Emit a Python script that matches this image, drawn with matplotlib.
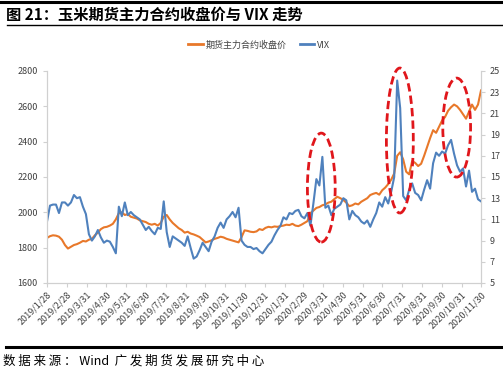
import matplotlib.pyplot as plt
import matplotlib.dates as mdates
from matplotlib.patches import Ellipse
from matplotlib.lines import Line2D
import pandas as pd

plt.rcParams['font.family'] = ['Noto Sans CJK SC', 'DejaVu Sans']

startDate = '2019-01-28'
endDate = '2020-11-30'

# 玉米期货主力合约收盘价 (left axis)
futuresPrice = [
    1855, 1865, 1870, 1868, 1862, 1845, 1815, 1795, 1805, 1815,
    1820, 1828, 1838, 1835, 1845, 1850, 1870, 1885, 1905, 1915,
    1918, 1925, 1935, 1960, 1995, 2000, 1985, 1990, 1975, 1970,
    1965, 1955, 1950, 1945, 1935, 1930, 1935, 1925, 1940, 1975,
    1985, 1960, 1940, 1925, 1910, 1900, 1885, 1890, 1880, 1875,
    1868, 1860, 1845, 1830, 1835, 1842, 1850, 1855, 1862, 1858,
    1850, 1845, 1840, 1835, 1830, 1860, 1898, 1895, 1890, 1888,
    1892, 1905, 1900, 1912, 1918, 1915, 1920, 1918, 1922, 1925,
    1930, 1928, 1935, 1925, 1922, 1930, 1940, 1950, 1995, 2010,
    2025, 2030, 2040, 2045, 2055, 2060, 2075, 2088, 2080, 2070,
    2055, 2035, 2040, 2050, 2045, 2060, 2070, 2080, 2098, 2105,
    2110, 2100, 2125, 2140, 2160, 2185, 2220, 2320, 2340, 2300,
    2230, 2215, 2290, 2280, 2262, 2275, 2320, 2370, 2420, 2465,
    2450, 2485, 2520, 2540, 2575, 2595, 2610, 2600, 2580, 2555,
    2530, 2570, 2610, 2580, 2610, 2690,
]

# VIX (right axis)
vix = [
    10.8, 12.3, 12.4, 12.4, 11.6, 12.6, 12.6, 12.3, 12.6, 13.3,
    13.0, 13.1, 12.2, 11.5, 9.6, 9.0, 9.4, 10.0, 9.3, 8.8,
    9.0, 8.9, 8.4, 7.8, 12.2, 11.3, 12.6, 11.4, 11.7, 11.4,
    11.2, 11.0, 10.5, 10.0, 10.3, 9.9, 9.6, 10.2, 10.1, 12.7,
    9.8, 8.4, 9.4, 9.2, 9.0, 8.8, 8.5, 9.4, 8.3, 7.3,
    7.5, 8.1, 8.8, 8.4, 8.0, 8.9, 9.4, 10.2, 10.7, 10.2,
    11.0, 11.3, 11.7, 11.2, 12.1, 9.0, 8.6, 8.4, 8.4, 8.2,
    8.3, 8.0, 7.8, 8.2, 8.6, 8.9, 9.5, 10.0, 10.4, 11.2,
    11.0, 11.6, 11.5, 11.8, 11.9, 11.3, 11.1, 11.6, 10.4, 12.5,
    14.8, 14.2, 16.9, 12.1, 12.3, 11.4, 12.0, 12.2, 12.4, 13.0,
    12.8, 11.0, 11.8, 11.4, 11.2, 10.8, 10.6, 10.9, 10.3, 11.0,
    11.6, 12.6, 12.2, 13.1, 12.5, 13.6, 15.0, 24.1, 21.5, 13.2,
    12.8, 13.8, 14.4, 13.5, 13.3, 12.8, 13.8, 14.7, 13.9, 16.3,
    17.3, 17.0, 17.4, 17.2, 18.0, 18.5, 17.2, 16.1, 15.5, 15.8,
    14.1, 15.6, 13.6, 13.9, 12.9, 12.7,
]

tickLabels = ['2019/1/28', '2019/2/28', '2019/3/31', '2019/4/30', '2019/5/31',
              '2019/6/30', '2019/7/31', '2019/8/31', '2019/9/30', '2019/10/31',
              '2019/11/30', '2019/12/31', '2020/1/31', '2020/2/29', '2020/3/31',
              '2020/4/30', '2020/5/31', '2020/6/30', '2020/7/31', '2020/8/31',
              '2020/9/30', '2020/10/31', '2020/11/30']

dates = pd.date_range(startDate, endDate, periods=len(futuresPrice))
tickDates = pd.to_datetime(tickLabels, format='%Y/%m/%d')

orange = '#E8782A'
blue = '#4F81BD'
grey = '#D0D0D0'
textGrey = '#404040'

fig = plt.figure(figsize=(5.03, 3.83), dpi=100)
ax = fig.add_axes([47 / 503, 100 / 383, 434 / 503, 212 / 383])
ax2 = ax.twinx()

ax.plot(dates, futuresPrice, color=orange, lw=1.5)
ax2.plot(dates, vix, color=blue, lw=1.5)

ax.set_xlim(tickDates[0], tickDates[-1])
ax.set_ylim(1600, 2800)
ax.set_yticks(range(1600, 2801, 200))
ax2.set_ylim(5, 25)
ax2.set_yticks(range(5, 26, 2))

ax.set_xticks(tickDates)
ax.set_xticklabels(tickLabels, rotation=45, ha='right', rotation_mode='anchor')

for a in (ax, ax2):
    a.spines['top'].set_visible(False)
    for side in ('left', 'right', 'bottom'):
        a.spines[side].set_color(grey)
    a.tick_params(colors=grey, labelcolor=textGrey, labelsize=6.5, length=3, width=0.8)
ax.tick_params(axis='x', pad=2)

# red dashed circles around the VIX spikes
for cx, cy, w, h in [(0.632, 0.450, 0.064, 0.514),
                     (0.813, 0.672, 0.062, 0.684),
                     (0.944, 0.733, 0.064, 0.467)]:
    ax2.add_patch(Ellipse((cx, cy), w, h, transform=ax2.transAxes, fill=False,
                          edgecolor='#E0161B', lw=2, ls=(0, (3, 1.5)), zorder=5,
                          clip_on=False))

# legend
handles = [Line2D([], [], color=orange, lw=2), Line2D([], [], color=blue, lw=2)]
fig.legend(handles, ['期货主力合约收盘价', 'VIX'], loc='center', ncol=2,
           bbox_to_anchor=(259 / 503, 1 - 45 / 383), frameon=False,
           fontsize=6.5, labelcolor=textGrey, handlelength=1.6,
           handletextpad=0.3, columnspacing=1.5)

# title and frame lines
fig.add_artist(Line2D([0, 1], [1 - 2 / 383, 1 - 2 / 383], color='black', lw=2.2))
fig.text(6 / 503, 1 - 15 / 383, '图 21：玉米期货主力合约收盘价与 VIX 走势',
         fontsize=11, fontweight='bold', va='center', ha='left')
fig.add_artist(Line2D([7 / 503, 1], [1 - 25 / 383, 1 - 25 / 383], color='black', lw=1.0))
fig.add_artist(Line2D([6 / 503, 1], [1 - 347 / 383, 1 - 347 / 383], color='black', lw=2.2))
fig.text(3 / 503, 1 - 361 / 383, ' '.join('数据来源：') + ' Wind  ' + ' '.join('广发期货发展研究中心'),
         fontsize=9, va='center', ha='left')

fig.savefig('out.png', dpi=100)
